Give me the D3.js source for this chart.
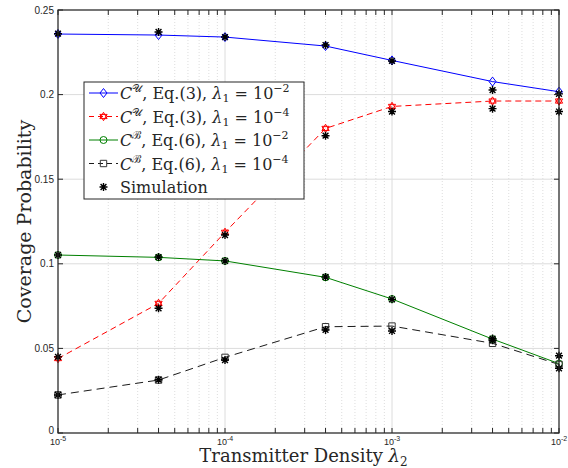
<!DOCTYPE html>
<html>
<head>
<meta charset="utf-8">
<script src="https://cdn.jsdelivr.net/npm/d3@7"></script>
<style>
  body { margin: 0; background: #fff; }
</style>
</head>
<body>
<div id="chart"></div>
<script>
// transmitter density lambda_2 (x positions of the curves)
var xValues = [1e-5, 4e-5, 1e-4, 4e-4, 1e-3, 4e-3, 1e-2];

// analysis curves
var cU2 = [0.2358, 0.2352, 0.2340, 0.2287, 0.2202, 0.2077, 0.2017];
var cU4 = [0.0440, 0.0766, 0.1186, 0.1800, 0.1930, 0.1962, 0.1962];
var cB2 = [0.1052, 0.1038, 0.1017, 0.0920, 0.0792, 0.0555, 0.0410];
var cB4 = [0.0225, 0.0313, 0.0447, 0.0628, 0.0632, 0.0530, 0.0405];

// simulation points
var simU2 = [0.2360, 0.2370, 0.2340, 0.2293, 0.2199, 0.2027, 0.2004];
var simU4 = [0.0450, 0.0737, 0.1170, 0.1757, 0.1900, 0.1917, 0.1900];
var simB2 = [0.1052, 0.1040, 0.1017, 0.0922, 0.0790, 0.0558, 0.0382];
var simB4 = [0.0225, 0.0315, 0.0431, 0.0609, 0.0603, 0.0548, 0.0457];

var yTicks = [0, 0.05, 0.1, 0.15, 0.2, 0.25];
var yTickLabels = ["0", "0.05", "0.1", "0.15", "0.2", "0.25"];
var xTicks = [1e-5, 1e-4, 1e-3, 1e-2];
var xTickExp = ["-5", "-4", "-3", "-2"];

var SERIF = "'DejaVu Serif', serif";
var SANS = "'Liberation Sans', Arial, sans-serif";

var width = 568, height = 468;
var margin = {top: 10, right: 9, bottom: 35, left: 58};
var w = width - margin.left - margin.right;
var h = height - margin.top - margin.bottom;

var svg = d3.select("#chart").append("svg")
    .attr("width", width)
    .attr("height", height);

var g = svg.append("g")
    .attr("transform", "translate(" + margin.left + "," + margin.top + ")");

var x = d3.scaleLog().domain([1e-5, 1e-2]).range([0, w]);
var y = d3.scaleLinear().domain([0, 0.25]).range([h, 0]);

// minor x positions (2..9 of each decade)
var minorX = [];
for (var e = -5; e < -2; e++) {
    for (var m = 2; m <= 9; m++) {
        minorX.push(m * Math.pow(10, e));
    }
}

// grid
g.selectAll(".minorgrid").data(minorX).enter().append("line")
    .attr("x1", function(d){ return x(d); })
    .attr("x2", function(d){ return x(d); })
    .attr("y1", 0).attr("y2", h)
    .attr("stroke", "#d4d4d4")
    .attr("stroke-width", 0.8)
    .attr("stroke-dasharray", "1,2");

g.selectAll(".xgrid").data(xTicks).enter().append("line")
    .attr("x1", function(d){ return x(d); })
    .attr("x2", function(d){ return x(d); })
    .attr("y1", 0).attr("y2", h)
    .attr("stroke", "#dcdcdc")
    .attr("stroke-width", 1);

g.selectAll(".ygrid").data(yTicks).enter().append("line")
    .attr("x1", 0).attr("x2", w)
    .attr("y1", function(d){ return y(d); })
    .attr("y2", function(d){ return y(d); })
    .attr("stroke", "#dcdcdc")
    .attr("stroke-width", 1);

// lines
var line = d3.line()
    .x(function(d){ return x(d[0]); })
    .y(function(d){ return y(d[1]); });

function pairs(vals) {
    return xValues.map(function(xv, i){ return [xv, vals[i]]; });
}

var series = [
    {vals: cU2, color: "#0000ff", dash: null, marker: "diamond"},
    {vals: cU4, color: "#ff0000", dash: "6,4", marker: "hexagram"},
    {vals: cB2, color: "#008000", dash: null, marker: "circle"},
    {vals: cB4, color: "#1a1a1a", dash: "8,5", marker: "square"}
];
var sims = [simU2, simU4, simB2, simB4];

function markerPath(type, cx, cy) {
    var p = d3.path();
    if (type == "diamond") {
        p.moveTo(cx, cy - 4.5); p.lineTo(cx + 3.5, cy); p.lineTo(cx, cy + 4.5); p.lineTo(cx - 3.5, cy); p.closePath();
    } else if (type == "circle") {
        p.moveTo(cx + 3.5, cy); p.arc(cx, cy, 3.5, 0, 2 * Math.PI);
    } else if (type == "square") {
        p.rect(cx - 3.2, cy - 3.2, 6.4, 6.4);
    } else if (type == "hexagram") {
        var r = 4.2;
        for (var t = 0; t < 2; t++) {
            for (var k = 0; k < 3; k++) {
                var a = -Math.PI / 2 + t * Math.PI + k * 2 * Math.PI / 3;
                if (k == 0) p.moveTo(cx + r * Math.cos(a), cy + r * Math.sin(a));
                else p.lineTo(cx + r * Math.cos(a), cy + r * Math.sin(a));
            }
            p.closePath();
        }
    } else if (type == "asterisk") {
        var s = 4, d2 = 2.9;
        p.moveTo(cx - s, cy); p.lineTo(cx + s, cy);
        p.moveTo(cx, cy - s); p.lineTo(cx, cy + s);
        p.moveTo(cx - d2, cy - d2); p.lineTo(cx + d2, cy + d2);
        p.moveTo(cx - d2, cy + d2); p.lineTo(cx + d2, cy - d2);
    }
    return p.toString();
}

series.forEach(function(s){
    g.append("path")
        .datum(pairs(s.vals))
        .attr("d", line)
        .attr("fill", "none")
        .attr("stroke", s.color)
        .attr("stroke-width", 1)
        .attr("stroke-dasharray", s.dash);
});

series.forEach(function(s){
    g.selectAll(null).data(pairs(s.vals)).enter().append("path")
        .attr("d", function(d){ return markerPath(s.marker, x(d[0]), y(d[1])); })
        .attr("fill", "none")
        .attr("stroke", s.marker == "square" ? "#333" : s.color)
        .attr("stroke-width", 1);
});

sims.forEach(function(vals){
    g.selectAll(null).data(pairs(vals)).enter().append("path")
        .attr("d", function(d){ return markerPath("asterisk", x(d[0]), y(d[1])); })
        .attr("fill", "none")
        .attr("stroke", "#000")
        .attr("stroke-width", 1.4);
});

// axes box
g.append("rect")
    .attr("width", w).attr("height", h)
    .attr("fill", "none")
    .attr("stroke", "#262626")
    .attr("stroke-width", 1.2);

var tickLen = 5;
var allX = xTicks.concat(minorX);
[0, h].forEach(function(yy){
    g.selectAll(null).data(allX).enter().append("line")
        .attr("x1", function(d){ return x(d); })
        .attr("x2", function(d){ return x(d); })
        .attr("y1", yy)
        .attr("y2", yy == 0 ? tickLen : h - tickLen)
        .attr("stroke", "#262626");
});
[0, w].forEach(function(xx){
    g.selectAll(null).data(yTicks).enter().append("line")
        .attr("x1", xx)
        .attr("x2", xx == 0 ? tickLen : w - tickLen)
        .attr("y1", function(d){ return y(d); })
        .attr("y2", function(d){ return y(d); })
        .attr("stroke", "#262626");
});

// tick labels
g.selectAll(".ylab").data(yTicks).enter().append("text")
    .attr("x", -4)
    .attr("y", function(d){ return y(d); })
    .attr("dy", function(d){ return d == 0 ? "0.1em" : "0.35em"; })
    .attr("text-anchor", "end")
    .style("font-family", SANS)
    .style("font-size", "10px")
    .attr("fill", "#262626")
    .text(function(d, i){ return yTickLabels[i]; });

xTicks.forEach(function(t, i){
    var tx = g.append("text")
        .attr("x", x(t))
        .attr("y", h + 12)
        .attr("text-anchor", "middle")
        .style("font-family", SANS)
        .style("font-size", "9px")
        .attr("fill", "#262626");
    tx.append("tspan").text("10");
    tx.append("tspan").attr("dy", -4).style("font-size", "7px").text(xTickExp[i]);
});

// axis titles
svg.append("text")
    .attr("transform", "translate(" + 31 + "," + (margin.top + h / 2) + ") rotate(-90)")
    .attr("text-anchor", "middle")
    .style("font-family", SERIF)
    .style("font-size", "19px")
    .attr("fill", "#262626")
    .text("Coverage Probability");

var xl = svg.append("text")
    .attr("x", margin.left + w / 2 - 5)
    .attr("y", 462)
    .attr("text-anchor", "middle")
    .style("font-family", SERIF)
    .style("font-size", "18px")
    .attr("fill", "#262626");
xl.append("tspan").text("Transmitter Density ");
xl.append("tspan").style("font-style", "italic").text("λ");
xl.append("tspan").attr("dy", 4).style("font-size", "12px").text("2");

// legend
var legendItems = [
    {sup: "𝒰", eq: "3", exp: "−2", s: series[0]},
    {sup: "𝒰", eq: "3", exp: "−4", s: series[1]},
    {sup: "ℬ", eq: "6", exp: "−2", s: series[2]},
    {sup: "ℬ", eq: "6", exp: "−4", s: series[3]},
    {sim: true}
];

var lg = svg.append("g").attr("transform", "translate(84,82)");
lg.append("rect")
    .attr("width", 220).attr("height", 117)
    .attr("fill", "#fff")
    .attr("stroke", "#262626")
    .attr("stroke-width", 1);

legendItems.forEach(function(d, i){
    var yy = 11 + i * 23.5;
    if (!d.sim) {
        lg.append("line")
            .attr("x1", 5).attr("x2", 34)
            .attr("y1", yy).attr("y2", yy)
            .attr("stroke", d.s.color)
            .attr("stroke-width", 1)
            .attr("stroke-dasharray", d.s.dash ? "5,4" : null);
        lg.append("path")
            .attr("d", markerPath(d.s.marker, 19.5, yy))
            .attr("fill", "none")
            .attr("stroke", d.s.marker == "square" ? "#333" : d.s.color);
        var t = lg.append("text")
            .attr("x", 36)
            .attr("y", yy + 6)
            .style("font-family", SERIF)
            .style("font-size", "16px")
            .attr("fill", "#262626");
        t.append("tspan").style("font-style", "italic").text("C");
        t.append("tspan").attr("dy", -7).style("font-size", "11px").text(d.sup);
        t.append("tspan").attr("dy", 7).text(", Eq.(" + d.eq + "), ");
        t.append("tspan").style("font-style", "italic").text("λ");
        t.append("tspan").attr("dy", 3).style("font-size", "11px").text("1");
        t.append("tspan").attr("dy", -3).text(" = 10");
        t.append("tspan").attr("dy", -7).style("font-size", "11px").text(d.exp);
    } else {
        lg.append("path")
            .attr("d", markerPath("asterisk", 19.5, yy))
            .attr("fill", "none")
            .attr("stroke", "#000")
            .attr("stroke-width", 1.4);
        lg.append("text")
            .attr("x", 36)
            .attr("y", yy + 6)
            .style("font-family", SERIF)
            .style("font-size", "16px")
            .attr("fill", "#262626")
            .text("Simulation");
    }
});
</script>
</body>
</html>
